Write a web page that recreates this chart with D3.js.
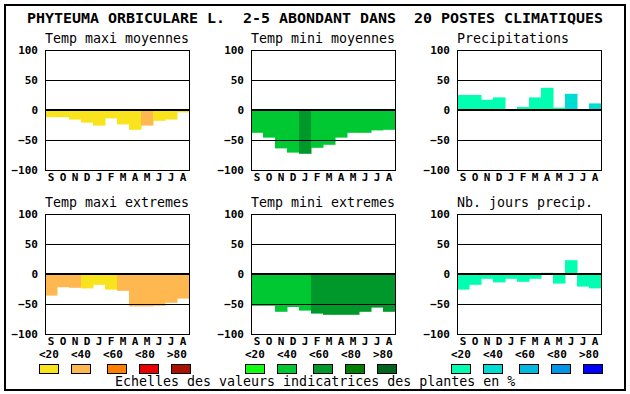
<!DOCTYPE html>
<html><head><meta charset="utf-8">
<script src="https://cdn.jsdelivr.net/npm/d3@7"></script>
<style>
html,body{margin:0;padding:0;background:#fff;}
svg{display:block;}
text{font-family:"DejaVu Sans Mono",monospace;fill:#000;white-space:pre;}
</style></head>
<body>
<svg id="chart" width="630" height="394"></svg>
<script>
const titleText = "PHYTEUMA ORBICULARE L.  2-5 ABONDANT DANS  20 POSTES CLIMATIQUES";
const footerText = "Echelles des valeurs indicatrices des plantes en %";
const months = ["S","O","N","D","J","F","M","A","M","J","J","A"];
const yTicks = [100, 50, 0, -50, -100];
const classLabels = ["<20","<40","<60","<80",">80"];

const warmColors  = ["#F8E31C","#FFB850","#FF8000","#E80000","#A81000"];
const greenColors = ["#10FF10","#00C832","#00982A","#007F00","#00641E"];
const cyanColors  = ["#00FFB0","#00DCD2","#00B8E0","#0096E8","#0000FF"];

const tMaxMoy    = [-12,-12,-16,-21,-26,-14,-24,-33,-26,-18,-16,-4];
const tMaxMoyCls = [0,0,0,0,0,0,0,0,1,0,0,0];
const tMinMoy    = [-38,-46,-64,-71,-73,-63,-58,-46,-38,-38,-34,-33];
const tMinMoyCls = [1,1,1,1,2,1,1,1,1,1,1,1];
const precip     = [25,25,17,21,0,5,21,37,4,27,0,11];
const precipCls  = [0,0,0,0,0,0,0,0,0,1,0,1];
const tMaxExt    = [-36,-22,-23,-24,-18,-26,-28,-54,-54,-53,-48,-41];
const tMaxExtCls = [1,1,1,0,0,0,1,1,1,1,1,1];
const tMinExt    = [-53,-53,-63,-55,-61,-66,-68,-68,-68,-63,-56,-63];
const tMinExtCls = [1,1,1,1,1,2,2,2,2,2,2,2];
const nbJours    = [-26,-18,-8,-14,-8,-13,-8,2,-16,23,-21,-24];
const nbJoursCls = [0,0,0,0,0,0,0,0,0,0,0,0];

const panels = [
  {name:"Temp maxi moyennes", vals:tMaxMoy, cls:tMaxMoyCls, pal:warmColors, col:0, row:0},
  {name:"Temp mini moyennes", vals:tMinMoy, cls:tMinMoyCls, pal:greenColors, col:1, row:0},
  {name:"Precipitations", vals:precip, cls:precipCls, pal:cyanColors, col:2, row:0},
  {name:"Temp maxi extremes", vals:tMaxExt, cls:tMaxExtCls, pal:warmColors, col:0, row:1},
  {name:"Temp mini extremes", vals:tMinExt, cls:tMinExtCls, pal:greenColors, col:1, row:1},
  {name:"Nb. jours precip.", vals:nbJours, cls:nbJoursCls, pal:cyanColors, col:2, row:1}
];
const legendPalettes = [warmColors, greenColors, cyanColors];

const svg = d3.select("#chart");

svg.append("rect").attr("x",5).attr("y",5).attr("width",620).attr("height",385)
  .attr("fill","none").attr("stroke","#000").attr("stroke-width",2);

svg.append("text").attr("x",27).attr("y",23)
  .attr("font-size",14.5).attr("font-weight","bold")
  .attr("xml:space","preserve")
  .attr("textLength",576).attr("lengthAdjust","spacingAndGlyphs")
  .text(titleText);

const colX = d3.scaleLinear().domain([0,1]).range([45,251]);
const rowY = d3.scaleLinear().domain([0,1]).range([50,214]);
const pw = 144, ph = 120;

panels.forEach(p => {
  const x0 = colX(p.col), y0 = rowY(p.row);
  const x = d3.scaleBand().domain(d3.range(months.length)).range([x0, x0+pw]).padding(0);
  const y = d3.scaleLinear().domain([-100,100]).range([y0+ph, y0]);
  const g = svg.append("g");

  g.append("text").attr("x",x0).attr("y",y0-7).attr("font-size",13.3).text(p.name);

  g.selectAll("rect.bar").data(p.vals).join("rect").attr("class","bar")
    .attr("x",(d,i)=>x(i)).attr("width",x.bandwidth()+0.5)
    .attr("y",d=>y(Math.max(0,d))).attr("height",d=>Math.abs(y(d)-y(0)))
    .attr("fill",(d,i)=>p.pal[p.cls[i]]);

  g.selectAll("line.grid").data([50,-50]).join("line").attr("class","grid")
    .attr("x1",x0).attr("x2",x0+pw).attr("y1",d=>Math.round(y(d))+0.5).attr("y2",d=>Math.round(y(d))+0.5)
    .attr("stroke","#000").attr("stroke-width",1);
  g.append("line").attr("x1",x0).attr("x2",x0+pw).attr("y1",y(0)).attr("y2",y(0))
    .attr("stroke","#000").attr("stroke-width",2);

  g.append("rect").attr("x",x0+0.5).attr("y",y0+0.5).attr("width",pw).attr("height",ph)
    .attr("fill","none").attr("stroke","#000").attr("stroke-width",1);

  const ya = g.append("g").attr("transform",`translate(${x0},0)`)
    .call(d3.axisLeft(y).tickValues(yTicks).tickSize(0).tickPadding(7).tickFormat(d3.format("d")));
  ya.select(".domain").remove();
  ya.selectAll("text").attr("font-size",11).attr("font-weight","bold")
    .attr("font-family","'DejaVu Sans Mono',monospace").attr("fill","#000");

  const xa = g.append("g").attr("transform",`translate(0,${y0+ph})`)
    .call(d3.axisBottom(x).tickSize(0).tickPadding(3).tickFormat(i=>months[i]));
  xa.select(".domain").remove();
  xa.selectAll("text").attr("font-size",11).attr("font-weight","bold")
    .attr("font-family","'DejaVu Sans Mono',monospace").attr("fill","#000");
});

const boxOffset = [0,32,68,100,132];
legendPalettes.forEach((pal,k) => {
  const gx = colX(k) - 6;
  const g = svg.append("g");
  g.selectAll("text").data(classLabels).join("text")
    .attr("x",(d,i)=>gx+i*32).attr("y",358)
    .attr("font-size",11).attr("font-weight","bold").text(d=>d);
  g.selectAll("rect").data(pal).join("rect")
    .attr("x",(d,i)=>gx+boxOffset[i]+0.5).attr("y",364.5)
    .attr("width",19).attr("height",9)
    .attr("fill",d=>d).attr("stroke","#000").attr("stroke-width",1);
});

svg.append("text").attr("x",115).attr("y",386).attr("font-size",13.3).text(footerText);
</script>
</body></html>
